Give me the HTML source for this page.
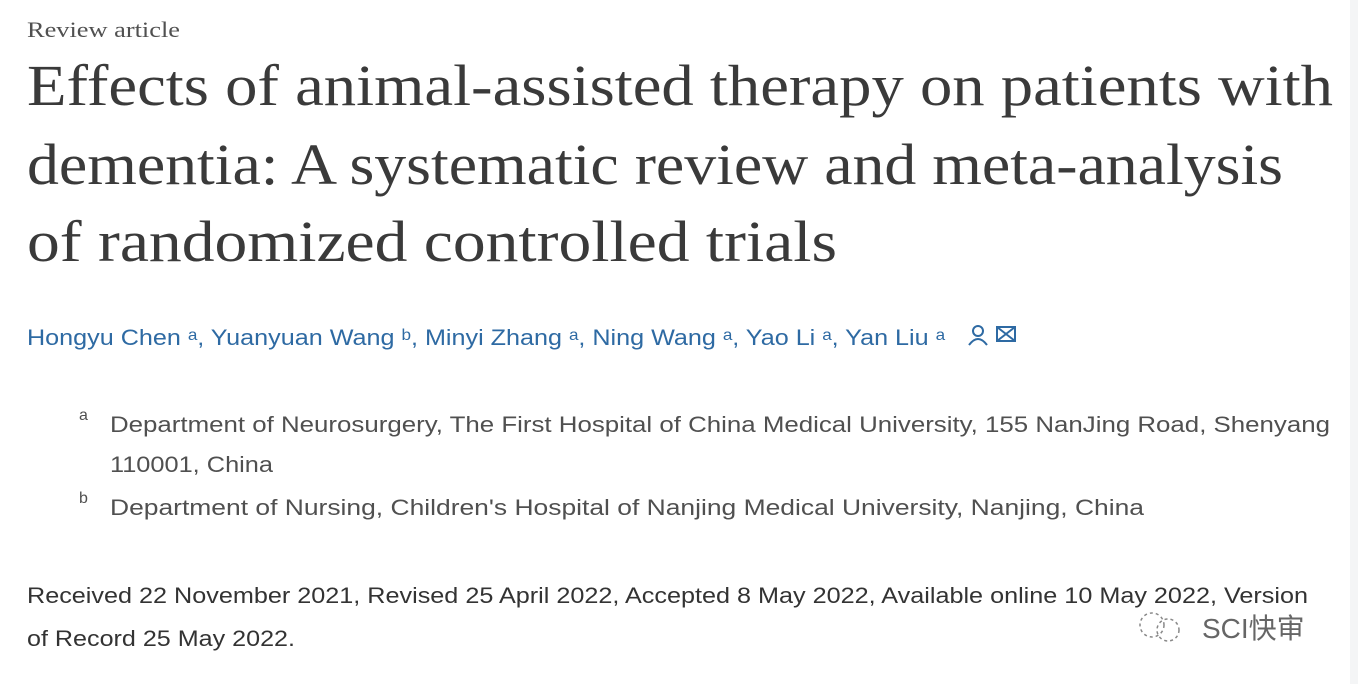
<!DOCTYPE html>
<html><head><meta charset="utf-8"><style>
html,body{margin:0;padding:0;background:#fff;width:1358px;height:684px;overflow:hidden}
svg{display:block}
.s{font-family:"Liberation Sans",sans-serif}
.f{font-family:"Liberation Serif",serif}
</style></head><body>
<svg width="1358" height="684" xmlns="http://www.w3.org/2000/svg">
<rect x="1350" y="0" width="8" height="684" fill="#f4f5f6"/>
<text class="f" x="27" y="37" font-size="22" fill="#505050" textLength="153" lengthAdjust="spacingAndGlyphs">Review article</text>
<g class="f" font-size="58" fill="#3a3a3a">
<text x="27" y="105" textLength="1306" lengthAdjust="spacingAndGlyphs">Effects of animal-assisted therapy on patients with</text>
<text x="27" y="184" textLength="1256" lengthAdjust="spacingAndGlyphs">dementia: A systematic review and meta-analysis</text>
<text x="27" y="261" textLength="810" lengthAdjust="spacingAndGlyphs">of randomized controlled trials</text>
</g>
<text class="s" x="27" y="345" font-size="22" fill="#2e6aa3" textLength="918" lengthAdjust="spacingAndGlyphs">Hongyu Chen ᵃ, Yuanyuan Wang ᵇ, Minyi Zhang ᵃ, Ning Wang ᵃ, Yao Li ᵃ, Yan Liu ᵃ</text>
<g stroke="#2e6aa3" stroke-width="2" fill="none">
<circle cx="978" cy="331" r="5"/>
<path d="M969 345 Q978 333 987 345"/>
<rect x="997" y="327" width="18" height="14"/>
<path d="M997 327 L1015 341 M1015 327 L997 341"/>
</g>
<g class="s" fill="#505050">
<text x="79" y="420" font-size="16">a</text>
<text x="110" y="432" font-size="22" textLength="1220" lengthAdjust="spacingAndGlyphs">Department of Neurosurgery, The First Hospital of China Medical University, 155 NanJing Road, Shenyang</text>
<text x="110" y="472" font-size="22" textLength="163" lengthAdjust="spacingAndGlyphs">110001, China</text>
<text x="79" y="503" font-size="16">b</text>
<text x="110" y="515" font-size="22" textLength="1034" lengthAdjust="spacingAndGlyphs">Department of Nursing, Children's Hospital of Nanjing Medical University, Nanjing, China</text>
<text x="27" y="603" font-size="22" fill="#333" textLength="1281" lengthAdjust="spacingAndGlyphs">Received 22 November 2021, Revised 25 April 2022, Accepted 8 May 2022, Available online 10 May 2022, Version</text>
<text x="27" y="646" font-size="22" fill="#333" textLength="268" lengthAdjust="spacingAndGlyphs">of Record 25 May 2022.</text>
</g>
<g fill="none" stroke="#888" stroke-width="1.5" stroke-dasharray="3 3">
<circle cx="1152" cy="625" r="12"/><circle cx="1168" cy="630" r="11"/>
</g>
<text x="1202" y="638" font-size="28" fill="#666" font-family="'Liberation Sans','Noto Sans CJK SC',sans-serif">SCI快审</text>
</svg>
</body></html>
